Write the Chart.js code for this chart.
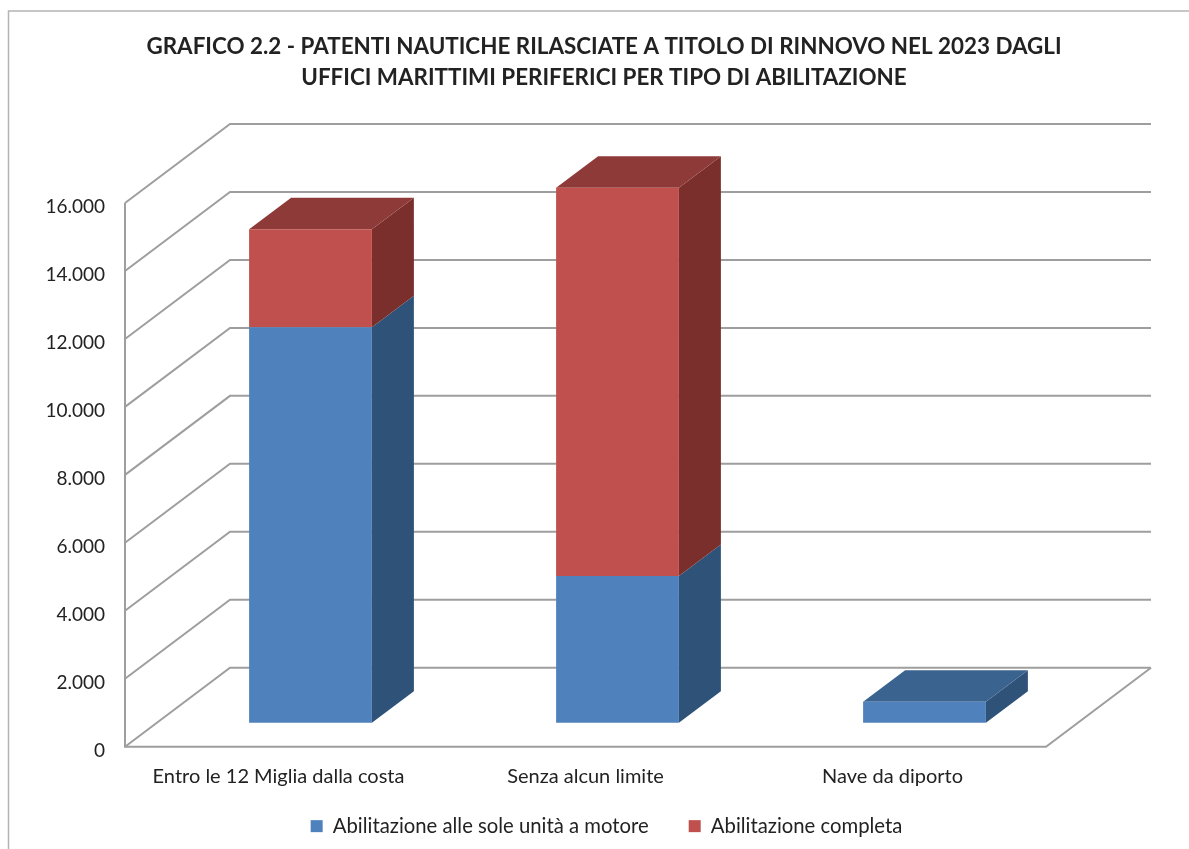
<!DOCTYPE html>
<html lang="it">
<head>
  <meta charset="UTF-8">
  <title>Grafico 2.2</title>
  <script src="https://cdn.jsdelivr.net/npm/chart.js"></script>
  <style>
    body { margin: 0; background: #fff; }
    canvas { display: block; }
  </style>
</head>
<body>
  <canvas id="grafico" width="1189" height="849"></canvas>

  <script>
    const titolo = [
      "GRAFICO 2.2 - PATENTI NAUTICHE RILASCIATE A TITOLO DI RINNOVO NEL 2023 DAGLI",
      "UFFICI MARITTIMI PERIFERICI PER TIPO DI ABILITAZIONE"
    ];
    const categorie = ["Entro le 12 Miglia dalla costa", "Senza alcun limite", "Nave da diporto"];
    const soloMotore = [11640, 4320, 620];
    const completa = [2880, 11420, 0];

    const fontTesto = "Lato, Carlito, sans-serif";
    const coloreTesto = "#222222";
    const coloreGriglia = "#9e9e9e";

    // profondita' della scatola 3D e delle barre, in pixel
    const scatola = { dx: 105, dy: 79 };
    const barra = { dx: 42, dy: 31.5, avantiX: 32, avantiY: 24 };
    const facce = {
      "#4f81bd": { lato: "#2f5278", sopra: "#3b6390" },
      "#c0504d": { lato: "#7a2f2d", sopra: "#8e3a38" }
    };

    function poligono(ctx, punti, colore) {
      ctx.fillStyle = colore;
      ctx.beginPath();
      punti.forEach(function (p, i) {
        if (i === 0) ctx.moveTo(p[0], p[1]);
        else ctx.lineTo(p[0], p[1]);
      });
      ctx.closePath();
      ctx.fill();
    }

    const scatola3d = {
      id: "scatola3d",
      afterLayout(chart) {
        // titolo e legenda non sono centrati sull'area del grafico
        chart.titleBlock.left = 19;
        chart.titleBlock.right = 1189;
        chart.legend.left = 24;
        chart.legend.right = 1189;
        chart.legend.top = 776;
      },
      beforeDraw(chart) {
        const ctx = chart.ctx;
        ctx.save();
        ctx.strokeStyle = "#b4b4b4";
        ctx.lineWidth = 1.5;
        ctx.strokeRect(8.5, 11, 1300, 1000);
        ctx.restore();
      },
      beforeDatasetsDraw(chart) {
        const ctx = chart.ctx;
        const area = chart.chartArea;
        const y = chart.scales.y;

        ctx.save();
        ctx.strokeStyle = coloreGriglia;
        ctx.lineWidth = 2;
        y.ticks.forEach(function (t) {
          const py = y.getPixelForValue(t.value);
          ctx.beginPath();
          ctx.moveTo(area.left, py);
          ctx.lineTo(area.left + scatola.dx, py - scatola.dy);
          ctx.lineTo(area.right + scatola.dx, py - scatola.dy);
          ctx.stroke();
        });
        ctx.beginPath();
        ctx.moveTo(area.left, area.top);
        ctx.lineTo(area.left, area.bottom);
        ctx.lineTo(area.right, area.bottom);
        ctx.lineTo(area.right + scatola.dx, area.bottom - scatola.dy);
        ctx.stroke();
        ctx.restore();

        // le barre stanno a meta' del pavimento
        ctx.save();
        ctx.translate(barra.avantiX, -barra.avantiY);
        chart.data.datasets.forEach(function (ds, i) {
          const colori = facce[ds.backgroundColor];
          chart.getDatasetMeta(i).data.forEach(function (el, j) {
            if (!ds.data[j]) return;
            const dx = barra.dx, dy = barra.dy;
            const destra = el.x + el.width / 2;
            const sinistra = el.x - el.width / 2;
            poligono(ctx, [[destra, el.y], [destra + dx, el.y - dy], [destra + dx, el.base - dy], [destra, el.base]], colori.lato);
            const sopraAltri = chart.data.datasets.slice(i + 1).some(function (d) { return d.data[j] > 0; });
            if (!sopraAltri) {
              poligono(ctx, [[sinistra, el.y], [sinistra + dx, el.y - dy], [destra + dx, el.y - dy], [destra, el.y]], colori.sopra);
            }
          });
        });
      },
      afterDatasetsDraw(chart) {
        chart.ctx.restore();
      }
    };

    new Chart(document.getElementById("grafico"), {
      type: "bar",
      data: {
        labels: categorie,
        datasets: [
          { label: "Abilitazione alle sole unità a motore", data: soloMotore, backgroundColor: "#4f81bd", clip: false },
          { label: "Abilitazione completa", data: completa, backgroundColor: "#c0504d", clip: false }
        ]
      },
      options: {
        responsive: false,
        animation: false,
        layout: { padding: { right: 143 } },
        categoryPercentage: 1,
        barPercentage: 0.4,
        plugins: {
          title: {
            display: true,
            text: titolo,
            color: coloreTesto,
            font: { family: fontTesto, size: 22.4, weight: "bold", lineHeight: 1.384 },
            padding: { top: 31, bottom: 110 }
          },
          legend: {
            position: "bottom",
            maxHeight: 40,
            labels: {
              color: coloreTesto,
              font: { family: fontTesto, size: 20.3 },
              boxWidth: 12,
              boxHeight: 12,
              padding: 40
            }
          },
          tooltip: { enabled: false }
        },
        scales: {
          x: {
            stacked: true,
            afterFit(s) { s.height = 62.3; },
            grid: { display: false, drawTicks: false },
            border: { display: false },
            ticks: { color: coloreTesto, font: { family: fontTesto, size: 20 }, padding: 18, maxRotation: 0 }
          },
          y: {
            stacked: true,
            min: 0,
            max: 16000,
            afterFit(s) { s.width = 125; },
            grid: { display: false, drawTicks: false },
            border: { display: false },
            ticks: {
              stepSize: 2000,
              color: coloreTesto,
              font: { family: fontTesto, size: 19 },
              padding: 20,
              labelOffset: 4,
              callback: function (v) { return String(v).replace(/\B(?=(\d{3})+$)/g, "."); }
            }
          }
        }
      },
      plugins: [scatola3d]
    });
  </script>
</body>
</html>
